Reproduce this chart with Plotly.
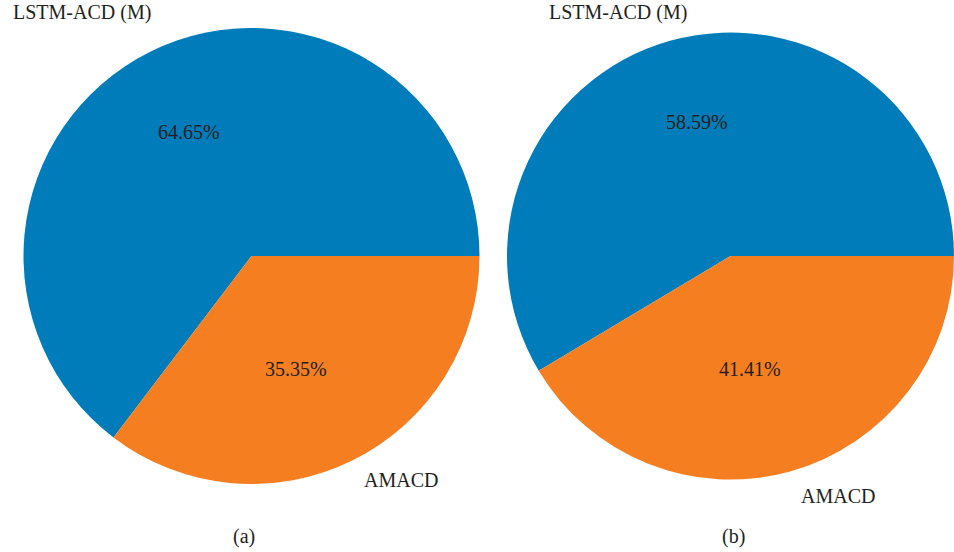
import plotly.graph_objects as go

# Share of each method in the two experiments, in percent
methods = ["LSTM-ACD (M)", "AMACD"]
share_a = [64.65, 35.35]
share_b = [58.59, 41.41]
panel_labels = ["(a)", "(b)"]

W, H = 954, 552
colors = ["#007CBA", "#F47E20"]
text_color = "#231F20"
font_family = "Liberation Serif, Times New Roman, serif"


def px(x, y):
    """Pixel position (from top-left) to paper coordinates."""
    return x / W, 1 - y / H


fig = go.Figure()

# Pie domains in pixels: (x0, x1, y0_top, y1_bottom)
domains = [(23.5, 479.5, 28, 484), (507, 954, 32.5, 479.5)]
for share, (x0, x1, yt, yb) in zip([share_a, share_b], domains):
    # first slice starts at 3 o'clock and runs counterclockwise;
    # plotly anchors the first slice's clockwise edge at `rotation`
    first_angle = 360.0 * share[0] / sum(share)
    fig.add_trace(go.Pie(
        labels=methods,
        values=share,
        sort=False,
        direction="counterclockwise",
        rotation=90 - first_angle,
        marker=dict(colors=colors, line=dict(width=0)),
        textinfo="none",
        hoverinfo="label+percent",
        showlegend=False,
        domain=dict(x=[x0 / W, x1 / W], y=[1 - yb / H, 1 - yt / H]),
    ))

# Text placement (pixel centres) for each panel
pct_pos = [[(189, 132), (296, 369)], [(697, 122), (750, 369)]]
name_pos = [[(82, 13), (401, 480)], [(617.5, 13), (838, 496)]]
panel_pos = [(244, 536), (733, 536)]

annotations = []
for share, pp, npos, plab, ppos in zip([share_a, share_b], pct_pos, name_pos,
                                       panel_labels, panel_pos):
    for v, (x, y) in zip(share, pp):
        xp, yp = px(x, y)
        annotations.append(dict(text=f"{v:.2f}%", x=xp, y=yp))
    for name, (x, y) in zip(methods, npos):
        xp, yp = px(x, y)
        annotations.append(dict(text=name, x=xp, y=yp))
    xp, yp = px(*ppos)
    annotations.append(dict(text=plab, x=xp, y=yp))

for a in annotations:
    a.update(xref="paper", yref="paper", xanchor="center", yanchor="middle",
             showarrow=False, font=dict(family=font_family, size=20, color=text_color))

fig.update_layout(
    width=W, height=H,
    margin=dict(l=0, r=0, t=0, b=0),
    paper_bgcolor="white",
    plot_bgcolor="white",
    annotations=annotations,
)

fig.write_html("out.html")
